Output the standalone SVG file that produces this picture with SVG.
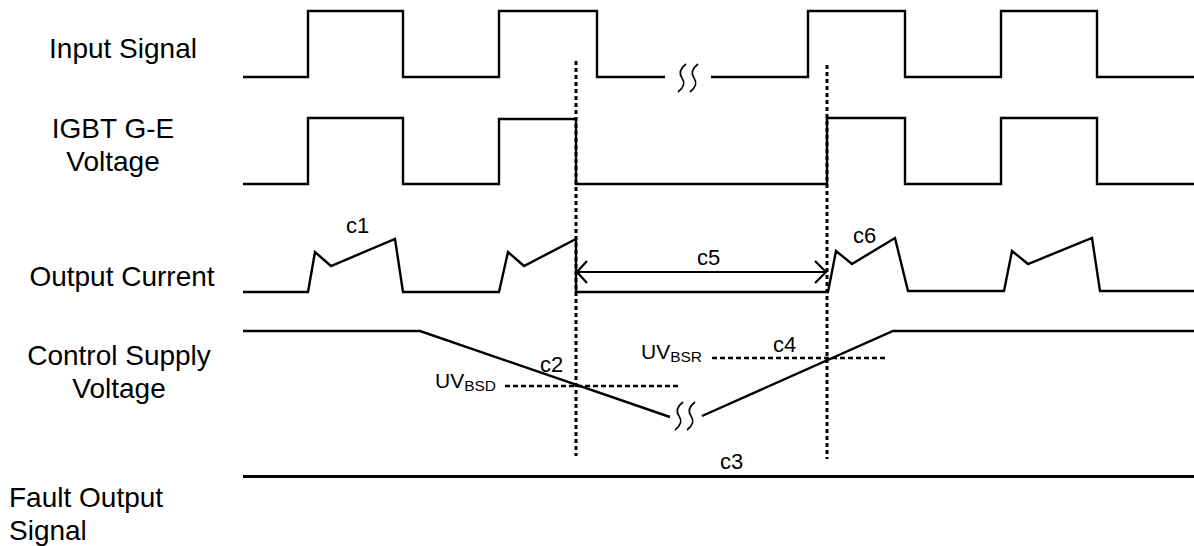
<svg xmlns="http://www.w3.org/2000/svg" width="1194" height="546" viewBox="0 0 1194 546">
  <style>
    .lbl { font-family: "Liberation Sans", Arial, sans-serif; font-size: 28px; fill: #000; }
    .tag { font-family: "Liberation Sans", Arial, sans-serif; font-size: 22px; fill: #000; }
    .uv { font-family: "Liberation Sans", Arial, sans-serif; font-size: 21px; fill: #000; }
    .sub { font-size: 15.5px; }
    .wave { fill: none; stroke: #000; stroke-width: 2.4; stroke-linejoin: miter; }
    .brk { fill: none; stroke: #000; stroke-width: 1.6; }
    .vdot { fill: none; stroke: #000; stroke-width: 3; stroke-dasharray: 4 3; }
    .hdash { fill: none; stroke: #000; stroke-width: 2.4; stroke-dasharray: 5 3; }
    .arr { fill: none; stroke: #000; stroke-width: 2.2; }
  </style>
  <defs>
    <!-- single wavy "break" stroke, drawn around its own origin -->
    <path id="squig" d="M-4,14 Q5,7 0,0 Q-5,-7 4,-14"/>
  </defs>
  <rect width="1194" height="546" fill="#fff"/>

  <!-- row labels -->
  <g id="label-input">
    <text class="lbl" x="123" y="58" text-anchor="middle">Input Signal</text>
  </g>
  <g id="label-igbt">
    <text class="lbl" x="113" y="138" text-anchor="middle">IGBT G-E</text>
    <text class="lbl" x="113" y="171" text-anchor="middle">Voltage</text>
  </g>
  <g id="label-current">
    <text class="lbl" x="122" y="286" text-anchor="middle">Output Current</text>
  </g>
  <g id="label-supply">
    <text class="lbl" x="119" y="365" text-anchor="middle">Control Supply</text>
    <text class="lbl" x="119" y="398" text-anchor="middle">Voltage</text>
  </g>
  <g id="label-fault">
    <text class="lbl" x="9" y="507">Fault Output</text>
    <text class="lbl" x="9" y="540">Signal</text>
  </g>

  <!-- waveforms -->
  <g id="wave-input">
    <path class="wave" d="M243,77 H308 V11 H403 V77 H499 V11 H597 V77 H665"/>
    <path class="wave" d="M711,77 H808 V11 H905 V77 H1001 V11 H1097 V77 H1194"/>
    <use href="#squig" class="brk" x="682" y="78"/>
    <use href="#squig" class="brk" x="694" y="78"/>
  </g>
  <g id="wave-igbt">
    <path class="wave" d="M243,184 H308 V118 H403 V184 H499 V119 H576 V184 H827 V118 H905 V184 H1001 V118 H1097 V184 H1194"/>
  </g>
  <g id="wave-current">
    <path class="wave" d="M243,292 H308 L315,252 L331,266 L395,239 L403,292 H499 L508,252 L524,266 L576,239 V292 H828 L836,251 L852,264 L895,238 L908,291 H1004 L1012,251 L1028,264 L1092,238 L1100,291 H1194"/>
  </g>
  <g id="wave-supply">
    <path class="wave" d="M243,331 H420 L670,417"/>
    <path class="wave" d="M702,416 L893,331 H1194"/>
    <use href="#squig" class="brk" x="679" y="416"/>
    <use href="#squig" class="brk" x="691" y="416"/>
  </g>
  <g id="wave-fault">
    <path class="wave" d="M243,476.5 H1194" style="stroke-width:3"/>
  </g>

  <!-- timing markers and thresholds -->
  <g id="connectors">
    <line class="vdot" x1="576" y1="61" x2="576" y2="456"/>
    <line class="vdot" x1="827" y1="65" x2="827" y2="459"/>
    <line class="hdash" x1="505" y1="386" x2="678" y2="386"/>
    <line class="hdash" x1="712" y1="358" x2="887" y2="358"/>
    <line class="arr" x1="577" y1="272" x2="826" y2="272"/>
    <polyline class="arr" points="587,261 577,272 587,283"/>
    <polyline class="arr" points="815,261 826,272 815,283"/>
  </g>

  <!-- annotations -->
  <g id="annotations">
    <text class="tag" x="346" y="233">c1</text>
    <text class="tag" x="853" y="243">c6</text>
    <text class="tag" x="697" y="265">c5</text>
    <text class="tag" x="540" y="372">c2</text>
    <text class="tag" x="773" y="352">c4</text>
    <text class="tag" x="720" y="469">c3</text>
    <text class="uv" x="435" y="388">UV<tspan class="sub" dy="3">BSD</tspan></text>
    <text class="uv" x="641" y="359">UV<tspan class="sub" dy="3">BSR</tspan></text>
  </g>
</svg>
